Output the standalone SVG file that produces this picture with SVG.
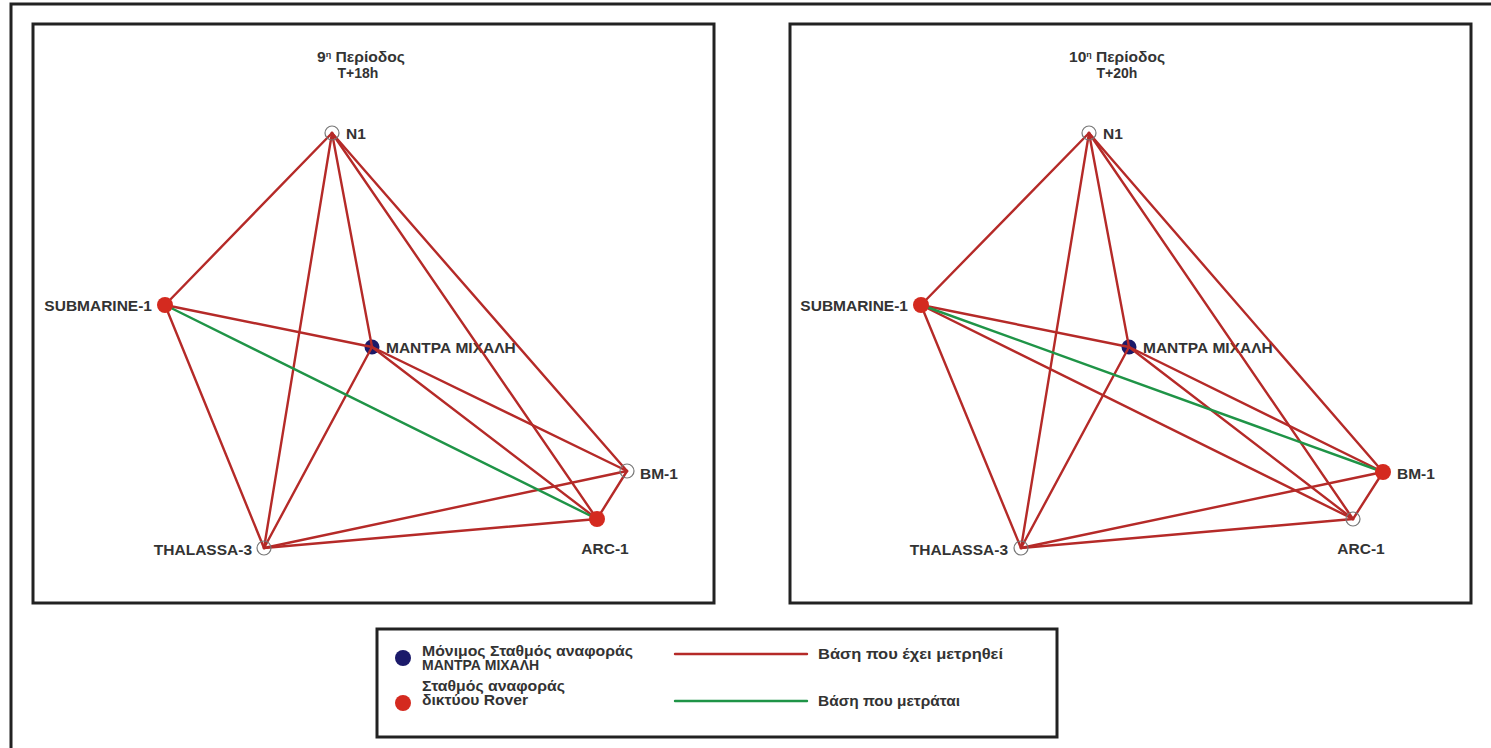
<svg xmlns="http://www.w3.org/2000/svg" width="1491" height="748" viewBox="0 0 1491 748">
  <style>
    .frame { fill: none; stroke: #222; stroke-width: 3; }
    .base { stroke: #b52a28; stroke-width: 2.4; stroke-linecap: round; }
    .live { stroke: #1f9447; stroke-width: 2.4; stroke-linecap: round; }
    .hollow { fill: none; stroke: #777; stroke-width: 1.2; }
    .rover { fill: #d42a1f; }
    .fixed { fill: #1b1a6a; }
    text { font-family: "Liberation Sans", Arial, sans-serif; font-weight: bold; fill: #333; }
    .title { font-size: 14px; text-anchor: middle; }
    .lbl { font-size: 15.5px; }
    .leg { font-size: 14px; }
  </style>

  <rect width="1491" height="748" fill="#fff"/>
  <path class="frame" d="M11,752 V4 H1495"/>

  <!-- panel frames -->
  <rect class="frame" x="33" y="24" width="681" height="579"/>
  <rect class="frame" x="790" y="24" width="681" height="579"/>

  <!-- left panel: period 9 -->
  <g id="period9">
    <text class="title" x="361" y="62" textLength="88" lengthAdjust="spacingAndGlyphs">9<tspan font-size="8" dy="-5">η</tspan><tspan dy="5"> Περίοδος</tspan></text>
    <text class="title" x="358" y="78">T+18h</text>

    <g id="mantra-9"><circle class="fixed" cx="372" cy="347" r="7.5"/><text class="lbl" x="386" y="353">ΜΑΝΤΡΑ ΜΙΧΑΛΗ</text></g>

    <g id="connectors9">
      <line class="base" x1="332" y1="133" x2="165" y2="305"/>
      <line class="base" x1="332" y1="133" x2="264" y2="548"/>
      <line class="base" x1="332" y1="133" x2="372" y2="347"/>
      <line class="base" x1="332" y1="133" x2="627" y2="471"/>
      <line class="base" x1="332" y1="133" x2="597" y2="519"/>
      <line class="base" x1="165" y1="305" x2="372" y2="347"/>
      <line class="base" x1="165" y1="305" x2="264" y2="548"/>
      <line class="base" x1="372" y1="347" x2="264" y2="548"/>
      <line class="base" x1="372" y1="347" x2="627" y2="471"/>
      <line class="base" x1="372" y1="347" x2="597" y2="519"/>
      <line class="base" x1="264" y1="548" x2="627" y2="471"/>
      <line class="base" x1="264" y1="548" x2="597" y2="519"/>
      <line class="base" x1="627" y1="471" x2="597" y2="519"/>
      <line class="live" x1="165" y1="305" x2="597" y2="519"/>
    </g>

    <g id="n1-9"><circle class="hollow" cx="332" cy="133" r="7"/><text class="lbl" x="346" y="139">N1</text></g>
    <g id="submarine1-9"><circle class="rover" cx="165" cy="305" r="8"/><text class="lbl" x="152" y="311" text-anchor="end">SUBMARINE-1</text></g>
    <g id="bm1-9"><circle class="hollow" cx="627" cy="471" r="7"/><text class="lbl" x="640" y="479">BM-1</text></g>
    <g id="arc1-9"><circle class="rover" cx="597" cy="519" r="8"/><text class="lbl" x="605" y="554" text-anchor="middle">ARC-1</text></g>
    <g id="thalassa3-9"><circle class="hollow" cx="264" cy="548" r="7"/><text class="lbl" x="252" y="555" text-anchor="end">THALASSA-3</text></g>
  </g>

  <!-- right panel: period 10 -->
  <g id="period10">
    <text class="title" x="1117" y="62" textLength="96" lengthAdjust="spacingAndGlyphs">10<tspan font-size="8" dy="-5">η</tspan><tspan dy="5"> Περίοδος</tspan></text>
    <text class="title" x="1117" y="78">T+20h</text>

    <g id="mantra-10"><circle class="fixed" cx="1129" cy="347" r="7.5"/><text class="lbl" x="1143" y="353">ΜΑΝΤΡΑ ΜΙΧΑΛΗ</text></g>

    <g id="connectors10">
      <line class="base" x1="1089" y1="133" x2="921" y2="305"/>
      <line class="base" x1="1089" y1="133" x2="1021" y2="548"/>
      <line class="base" x1="1089" y1="133" x2="1129" y2="347"/>
      <line class="base" x1="1089" y1="133" x2="1383" y2="472"/>
      <line class="base" x1="1089" y1="133" x2="1353" y2="519"/>
      <line class="base" x1="921" y1="305" x2="1129" y2="347"/>
      <line class="base" x1="921" y1="305" x2="1021" y2="548"/>
      <line class="base" x1="921" y1="305" x2="1353" y2="519"/>
      <line class="base" x1="1129" y1="347" x2="1021" y2="548"/>
      <line class="base" x1="1129" y1="347" x2="1383" y2="472"/>
      <line class="base" x1="1129" y1="347" x2="1353" y2="519"/>
      <line class="base" x1="1021" y1="548" x2="1383" y2="472"/>
      <line class="base" x1="1021" y1="548" x2="1353" y2="519"/>
      <line class="base" x1="1383" y1="472" x2="1353" y2="519"/>
      <line class="live" x1="921" y1="305" x2="1383" y2="472"/>
    </g>

    <g id="n1-10"><circle class="hollow" cx="1089" cy="133" r="7"/><text class="lbl" x="1103" y="139">N1</text></g>
    <g id="submarine1-10"><circle class="rover" cx="921" cy="305" r="8"/><text class="lbl" x="908" y="311" text-anchor="end">SUBMARINE-1</text></g>
    <g id="bm1-10"><circle class="rover" cx="1383" cy="472" r="8"/><text class="lbl" x="1397" y="479">BM-1</text></g>
    <g id="arc1-10"><circle class="hollow" cx="1353" cy="519" r="7"/><text class="lbl" x="1361" y="554" text-anchor="middle">ARC-1</text></g>
    <g id="thalassa3-10"><circle class="hollow" cx="1021" cy="548" r="7"/><text class="lbl" x="1008" y="555" text-anchor="end">THALASSA-3</text></g>
  </g>

  <!-- legend -->
  <g id="legend">
    <rect class="frame" x="377" y="629" width="680" height="108"/>
    <circle cx="403" cy="658" r="8" fill="#1b1a6a"/>
    <text class="leg" x="422" y="656" textLength="211" lengthAdjust="spacingAndGlyphs">Μόνιμος Σταθμός αναφοράς</text>
    <text class="leg" x="422" y="670">ΜΑΝΤΡΑ ΜΙΧΑΛΗ</text>
    <circle cx="403" cy="703" r="8" fill="#d42a1f"/>
    <text class="leg" x="422" y="691" textLength="143" lengthAdjust="spacingAndGlyphs">Σταθμός αναφοράς</text>
    <text class="leg" x="422" y="705" textLength="106" lengthAdjust="spacingAndGlyphs">δικτύου Rover</text>
    <line class="base" x1="675" y1="654" x2="807" y2="654" stroke-width="3"/>
    <text class="leg" x="818" y="659" textLength="185" lengthAdjust="spacingAndGlyphs">Βάση που έχει μετρηθεί</text>
    <line class="live" x1="675" y1="701" x2="807" y2="701" stroke-width="3"/>
    <text class="leg" x="818" y="706" textLength="142" lengthAdjust="spacingAndGlyphs">Βάση που μετράται</text>
  </g>
</svg>
